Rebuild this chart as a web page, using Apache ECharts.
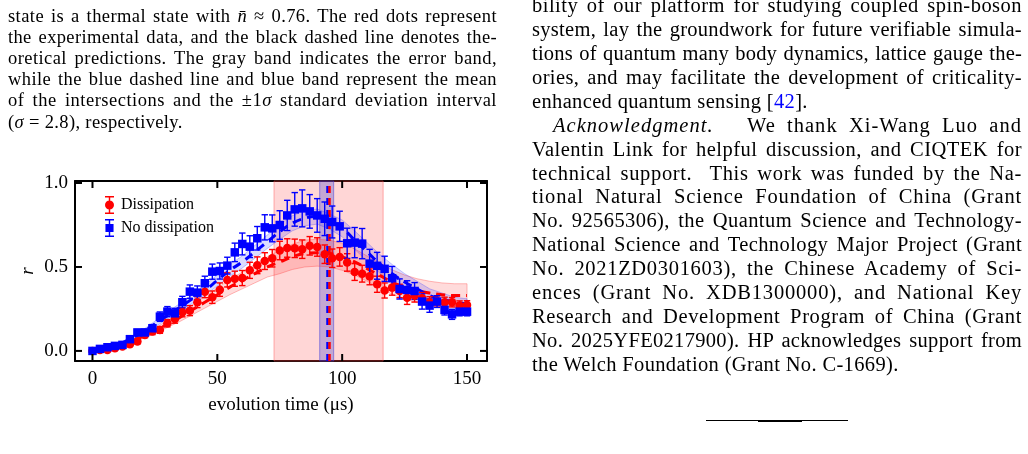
<!DOCTYPE html>
<html><head><meta charset="utf-8">
<script src="https://cdn.jsdelivr.net/npm/echarts@6/dist/echarts.min.js"></script>
<style>
html,body{margin:0;padding:0;background:#fff;}
body{width:1028px;height:454px;overflow:hidden;position:relative;font-family:'Liberation Serif',serif;color:#000;}
#chart{position:absolute;left:0;top:0;width:1028px;height:454px;}
.ln{position:absolute;text-align:justify;text-align-last:justify;white-space:nowrap;}
.ln.last{text-align:left;text-align-last:left;}
.cap{font-size:18.5px;line-height:21px;}
.body{font-size:20.5px;line-height:24px;}
.rule{position:absolute;background:#000;}
</style></head>
<body>
<div id="chart"></div>
<script>
// ---------- data ----------
var times = [0,3,6,9,12,15,18,21,24,27,30,33,36,39,42,45,48,51,54,57,60,63,66,69,72,75,78,81,84,87,90,93,96,99,102,105,108,111,114,117,120,123,126,129,132,135,138,141,144,147,150];
var dissipation = [0,0.005,0.006,0.016,0.026,0.04,0.056,0.095,0.115,0.125,0.165,0.19,0.23,0.24,0.29,0.352,0.32,0.365,0.423,0.43,0.434,0.48,0.51,0.535,0.552,0.598,0.613,0.611,0.606,0.626,0.619,0.576,0.552,0.56,0.527,0.47,0.46,0.444,0.397,0.36,0.377,0.357,0.317,0.329,0.313,0.29,0.298,0.29,0.29,0.27,0.274];
var dissipationErr = [0.005,0.006,0.007,0.008,0.01,0.012,0.014,0.016,0.018,0.02,0.022,0.025,0.027,0.03,0.032,0.035,0.037,0.04,0.042,0.045,0.045,0.048,0.05,0.05,0.052,0.055,0.055,0.055,0.055,0.055,0.055,0.055,0.055,0.055,0.052,0.05,0.05,0.05,0.048,0.045,0.045,0.04,0.04,0.038,0.035,0.033,0.03,0.03,0.028,0.028,0.025];
var noDissipation = [0,0.012,0.022,0.03,0.036,0.07,0.11,0.11,0.135,0.204,0.234,0.224,0.29,0.353,0.347,0.403,0.472,0.476,0.508,0.587,0.637,0.621,0.671,0.736,0.73,0.75,0.807,0.843,0.849,0.831,0.807,0.787,0.768,0.742,0.641,0.645,0.639,0.52,0.507,0.489,0.433,0.369,0.363,0.357,0.294,0.27,0.294,0.244,0.218,0.234,0.234];
var noDissipationErr = [0.008,0.008,0.01,0.01,0.012,0.015,0.018,0.02,0.022,0.028,0.03,0.03,0.035,0.04,0.04,0.042,0.045,0.048,0.05,0.055,0.065,0.065,0.07,0.075,0.08,0.085,0.09,0.1,0.11,0.1,0.1,0.1,0.095,0.09,0.09,0.09,0.09,0.085,0.08,0.075,0.07,0.06,0.055,0.05,0.045,0.04,0.035,0.03,0.03,0.025,0.025];

var theoryTimes = [0,5,10,15,20,25,30,35,40,45,50,55,60,65,70,75,80,85,90,95,100,105,110,115,120,125,130,135,140,145,150];
var theoryRed  = [0,0.01,0.03,0.055,0.085,0.12,0.16,0.2,0.245,0.29,0.335,0.38,0.42,0.46,0.5,0.53,0.56,0.58,0.585,0.58,0.56,0.53,0.49,0.45,0.41,0.38,0.36,0.345,0.335,0.33,0.33];
var redBandLow  = [0,0.007,0.025,0.047,0.073,0.104,0.14,0.175,0.215,0.255,0.295,0.335,0.37,0.405,0.44,0.46,0.485,0.5,0.505,0.5,0.48,0.452,0.415,0.375,0.337,0.308,0.29,0.275,0.265,0.26,0.26];
var redBandHigh = [0,0.013,0.035,0.063,0.097,0.136,0.18,0.225,0.275,0.325,0.375,0.425,0.47,0.515,0.56,0.6,0.635,0.66,0.665,0.66,0.64,0.608,0.565,0.525,0.483,0.452,0.43,0.415,0.405,0.4,0.4];
var theoryBlue = [0,0.012,0.035,0.07,0.11,0.16,0.21,0.26,0.31,0.36,0.42,0.48,0.53,0.59,0.65,0.71,0.76,0.79,0.8,0.77,0.73,0.66,0.59,0.52,0.46,0.41,0.37,0.33,0.31,0.29,0.28];
var blueBandLow  = [0,0.009,0.029,0.06,0.097,0.143,0.19,0.237,0.284,0.33,0.387,0.445,0.494,0.552,0.61,0.665,0.715,0.745,0.755,0.725,0.68,0.605,0.535,0.465,0.405,0.36,0.325,0.29,0.275,0.26,0.25];
var blueBandHigh = [0,0.015,0.041,0.08,0.123,0.177,0.23,0.283,0.336,0.39,0.453,0.515,0.566,0.628,0.69,0.755,0.805,0.835,0.845,0.815,0.78,0.715,0.645,0.575,0.515,0.46,0.415,0.37,0.345,0.32,0.31];

var wideWindow = [72.7, 116.4];
var meanWindow = [91.0, 96.6];
var meanBlue = 93.9;
var meanRed = 94.7;

var xTicks = [0,50,100,150];
var yTicks = [0,0.5,1.0];
var xRange = [-7, 158];
var yRange = [-0.06, 1.012];
var legendNames = ['Dissipation','No dissipation'];

var captionLines = [
 'state is a thermal state with <i>n̄</i> ≈ 0.76. The red dots represent',
 'the experimental data, and the black dashed line denotes the-',
 'oretical predictions. The gray band indicates the error band,',
 'while the blue dashed line and blue band represent the mean',
 'of the intersections and the ±1<i>σ</i> standard deviation interval',
 '(<i>σ</i> = 2.8), respectively.'
];
var bodyLines = [
 'bility of our platform for studying coupled spin-boson',
 'system, lay the groundwork for future verifiable simula-',
 'tions of quantum many body dynamics, lattice gauge the-',
 'ories, and may facilitate the development of criticality-',
 'enhanced quantum sensing [<span style="color:#0000ff">42</span>].',
 '<i>Acknowledgment.</i>&nbsp;&nbsp; We thank Xi-Wang Luo and',
 'Valentin Link for helpful discussion, and CIQTEK for',
 'technical support.&nbsp; This work was funded by the Na-',
 'tional Natural Science Foundation of China (Grant',
 'No. 92565306), the Quantum Science and Technology-',
 'National Science and Technology Major Project (Grant',
 'No. 2021ZD0301603), the Chinese Academy of Sci-',
 'ences (Grant No. XDB1300000), and National Key',
 'Research and Development Program of China (Grant',
 'No. 2025YFE0217900). HP acknowledges support from',
 'the Welch Foundation (Grant No. C-1669).'
];

// ---------- page text ----------
function addLine(html, cls, left, width, top, justify){
  var d = document.createElement('div');
  d.className = 'ln ' + cls + (justify ? '' : ' last');
  d.style.left = left + 'px'; d.style.top = top + 'px';
  d.innerHTML = html;
  document.body.appendChild(d);
  var natural = d.getBoundingClientRect().width;
  var chars = d.textContent.length;
  if (justify) {
    var extra = width - natural;
    if (extra > 0) d.style.letterSpacing = (extra * 0.55 / chars) + 'px';
  } else {
    d.style.letterSpacing = '0.35px';
  }
  d.style.width = width + 'px';
}
(function(){
  captionLines.forEach(function(t,i){
    addLine(t, 'cap', 8, 489, 16 + 21.2*i - 10.5, i !== captionLines.length-1);
  });
  bodyLines.forEach(function(t,i){
    var last = (i === 4 || i === bodyLines.length-1);
    var indent = (i === 5) ? 21 : 0;
    addLine(t, 'body', 532 + indent, 490 - indent, 5 + 23.93*i - 12, !last);
  });
  var b = document.body;
  var r1 = document.createElement('div'); r1.className='rule';
  r1.style.cssText += 'left:706px;top:420px;width:142px;height:1px;';
  b.appendChild(r1);
  var r2 = document.createElement('div'); r2.className='rule';
  r2.style.cssText += 'left:758px;top:419.5px;width:44px;height:2px;';
  b.appendChild(r2);
})();

// ---------- chart ----------
var chart = echarts.init(document.getElementById('chart'));
var FONT = 'Liberation Serif';

function zip(xs, ys){ return xs.map(function(x,i){ return [x, ys[i]]; }); }
function errData(xs, ys, es){ return xs.map(function(x,i){ return [x, ys[i], es[i]]; }); }

function bandRenderer(low, high, fill, stroke){
  return function(params, api){
    if (params.dataIndex !== 0) return null;
    var pts = [];
    for (var i=0;i<theoryTimes.length;i++) pts.push(api.coord([theoryTimes[i], low[i]]));
    for (var j=theoryTimes.length-1;j>=0;j--) pts.push(api.coord([theoryTimes[j], high[j]]));
    return {type:'polygon', shape:{points:pts}, style:{fill:fill, stroke:stroke, lineWidth:1}};
  };
}
function errRenderer(color){
  return function(params, api){
    var x = api.value(0), y = api.value(1), e = api.value(2);
    var top = api.coord([x, y+e]), bot = api.coord([x, y-e]);
    var cw = 3.2;
    var st = {stroke:color, lineWidth:1.4};
    return {type:'group', children:[
      {type:'line', shape:{x1:top[0],y1:top[1],x2:bot[0],y2:bot[1]}, style:st},
      {type:'line', shape:{x1:top[0]-cw,y1:top[1],x2:top[0]+cw,y2:top[1]}, style:st},
      {type:'line', shape:{x1:bot[0]-cw,y1:bot[1],x2:bot[0]+cw,y2:bot[1]}, style:st}
    ]};
  };
}
// inward ticks on all four sides of the frame, placed through the axes' own scales
function tickRenderer(params, api){
  if (params.dataIndex !== 0) return null;
  var L = 7, st = {stroke:'#000', lineWidth:2}, kids = [];
  xTicks.forEach(function(v){
    var b = api.coord([v, yRange[0]]), t = api.coord([v, yRange[1]]);
    kids.push({type:'line', shape:{x1:b[0], y1:b[1], x2:b[0], y2:b[1]-L}, style:st});
    kids.push({type:'line', shape:{x1:t[0], y1:t[1], x2:t[0], y2:t[1]+L}, style:st});
  });
  yTicks.forEach(function(v){
    var l = api.coord([xRange[0], v]), r = api.coord([xRange[1], v]);
    kids.push({type:'line', shape:{x1:l[0], y1:l[1], x2:l[0]+L, y2:l[1]}, style:st});
    kids.push({type:'line', shape:{x1:r[0], y1:r[1], x2:r[0]-L, y2:r[1]}, style:st});
  });
  return {type:'group', children:kids};
}

var redIcon = 'path://M0,0H10V1.6H0Z M4.2,1.6H5.8V18.4H4.2Z M0,18.4H10V20H0Z M10,10A5,5 0 1 1 0,10A5,5 0 1 1 10,10Z';
var blueIcon = 'path://M0,0H10V1.6H0Z M4.2,1.6H5.8V18.4H4.2Z M0,18.4H10V20H0Z M0.5,5.5H9.5V14.5H0.5Z';

var axisTxt = {fontFamily:FONT, fontSize:19, color:'#000'};
var frameLine = {show:true, onZero:false, lineStyle:{color:'#000', width:2}};

var option = {
  animation:false,
  grid:{left:75, top:181, width:412, height:180, show:false, containLabel:false},
  legend:{
    orient:'vertical', left:100, top:191, itemGap:5, itemWidth:9, itemHeight:18,
    textStyle:{fontFamily:FONT, fontSize:16, color:'#000', padding:[0,0,0,2]},
    data:[{name:legendNames[0], icon:redIcon, itemStyle:{color:'#ff0000'}},
          {name:legendNames[1], icon:blueIcon, itemStyle:{color:'#0000ff'}}]
  },
  xAxis:[
    {type:'value', min:xRange[0], max:xRange[1], position:'bottom',
     axisLine:frameLine, splitLine:{show:false}, axisTick:{show:false},
     axisLabel:Object.assign({customValues:xTicks, margin:9}, axisTxt),
     name:'evolution time (μs)', nameLocation:'middle', nameGap:35,
     nameTextStyle:{fontFamily:FONT, fontSize:19, color:'#000'}},
    {type:'value', min:xRange[0], max:xRange[1], position:'top',
     axisLine:frameLine, splitLine:{show:false}, axisTick:{show:false}, axisLabel:{show:false}}
  ],
  yAxis:[
    {type:'value', min:yRange[0], max:yRange[1], position:'left',
     axisLine:frameLine, splitLine:{show:false}, axisTick:{show:false},
     axisLabel:Object.assign({customValues:yTicks, margin:7, formatter:function(v){return v.toFixed(1);}}, axisTxt),
     name:'r', nameLocation:'middle', nameGap:38, nameRotate:90,
     nameTextStyle:{fontFamily:FONT, fontSize:19, fontStyle:'italic', color:'#000'}},
    {type:'value', min:yRange[0], max:yRange[1], position:'right',
     axisLine:frameLine, splitLine:{show:false}, axisTick:{show:false}, axisLabel:{show:false}}
  ],
  series:[
    {type:'line', name:'window', data:[[0,0]], symbol:'none', lineStyle:{opacity:0}, silent:true, z:0,
     markArea:{silent:true, itemStyle:{color:'rgba(255,0,0,0.16)', borderColor:'rgba(255,80,80,0.45)', borderWidth:1},
       data:[[{xAxis:wideWindow[0]},{xAxis:wideWindow[1]}]]}},
    {type:'custom', name:'redBand', data:[[0,0]], z:1, silent:true,
     renderItem:bandRenderer(redBandLow, redBandHigh, 'rgba(255,0,0,0.14)', 'rgba(255,60,60,0.35)')},
    {type:'custom', name:'blueBand', data:[[0,0]], z:2, silent:true,
     renderItem:bandRenderer(blueBandLow, blueBandHigh, 'rgba(40,40,255,0.16)', 'rgba(60,60,255,0.3)')},
    {type:'line', name:'meanWindow', data:[[0,0]], symbol:'none', lineStyle:{opacity:0}, silent:true, z:3,
     markArea:{silent:true, itemStyle:{color:'rgba(40,40,200,0.28)', borderColor:'rgba(60,60,220,0.5)', borderWidth:1},
       data:[[{xAxis:meanWindow[0]},{xAxis:meanWindow[1]}]]}},
    {type:'line', name:'theoryRed', data:zip(theoryTimes, theoryRed), smooth:true, symbol:'none', z:4,
     lineStyle:{color:'#ff0000', width:3, type:[9,6]}},
    {type:'line', name:'theoryBlue', data:zip(theoryTimes, theoryBlue), smooth:true, symbol:'none', z:4,
     lineStyle:{color:'#0000ff', width:3, type:[9,6]}},
    {type:'custom', name:'errRed', data:errData(times, dissipation, dissipationErr), z:5,
     renderItem:errRenderer('#ff0000'), encode:{x:0, y:1}},
    {type:'custom', name:'errBlue', data:errData(times, noDissipation, noDissipationErr), z:5,
     renderItem:errRenderer('#0000ff'), encode:{x:0, y:1}},
    {type:'scatter', name:legendNames[0], data:zip(times, dissipation), symbol:'circle', symbolSize:8.5, z:6,
     itemStyle:{color:'#ff0000', opacity:1}},
    {type:'scatter', name:legendNames[1], data:zip(times, noDissipation), symbol:'rect', symbolSize:8.5, z:6,
     itemStyle:{color:'#0000ff', opacity:1}},
    {type:'line', name:'meanLines', data:[[0,0]], symbol:'none', lineStyle:{opacity:0}, silent:true, z:7,
     markLine:{silent:true, symbol:'none', label:{show:false},
       data:[{xAxis:meanBlue, lineStyle:{color:'#0000ff', width:2.5, type:[7,5]}},
             {xAxis:meanRed, lineStyle:{color:'#ff0000', width:2.5, type:[7,5]}}]}},
    {type:'custom', name:'frameTicks', data:[[0,0]], z:8, silent:true, clip:false, renderItem:tickRenderer}
  ]
};
chart.setOption(option);
</script>
</body></html>
